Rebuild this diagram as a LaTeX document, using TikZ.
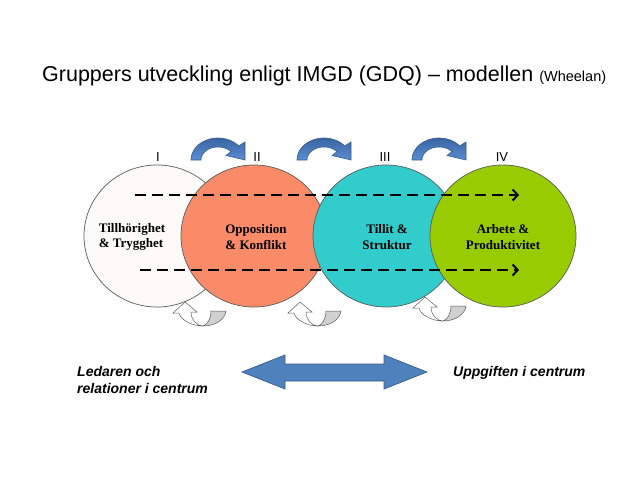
\documentclass[tikz,border=0pt]{standalone}
\usepackage{fontspec}
\setmainfont{Liberation Sans}
\newfontfamily\serifb{Liberation Serif}
\usetikzlibrary{arrows.meta,shapes.geometric}
\definecolor{c1}{HTML}{FBFAF8}
\definecolor{c2}{HTML}{F98B68}
\definecolor{c3}{HTML}{33CCCC}
\definecolor{c4}{HTML}{99CC00}
\definecolor{bl}{HTML}{4F81BD}
\definecolor{bld}{HTML}{385D8A}
\definecolor{blt}{HTML}{3A64A2}
\definecolor{blb}{HTML}{5A8ED2}
\definecolor{gr}{HTML}{D0D0D0}
\definecolor{edge}{HTML}{5A5A5A}
\tikzset{
  phase/.style={ellipse, draw=edge, line width=0.7pt, minimum width=146pt, minimum height=142pt, inner sep=0pt},
  phaselbl/.style={font=\serifb\bfseries\fontsize{13}{15.5}\selectfont, align=center},
  roman/.style={font=\fontsize{13}{15}\selectfont},
  flow/.style={line width=2.4pt, dash pattern=on 11pt off 6pt, -{Straight Barb[length=5pt,width=11pt,line width=2pt]}},
  sidetxt/.style={font=\bfseries\itshape\fontsize{14}{17}\selectfont, align=left},
  topbend/.pic={
    \path[top color=blt, bottom color=blb, draw=bld, line width=0.6pt]
      plot[domain=180:40,samples=30] ({27*cos(\x)},{-22*sin(\x)})
      -- (27,-18) -- (27,0) -- (8,-4.5)
      -- plot[domain=40:180,samples=30] ({17*cos(\x)},{-13*sin(\x)}) -- cycle;
  },
  lowbend/.pic={
    \path[draw=edge, fill=white, line width=0.5pt]
      (0,0) .. controls (-12,0) and (-23,-7) .. (-24,-13) -- (-30,-13) -- (-18,-24)
      -- (-6,-14) -- (-12,-14) .. controls (-12,-6) and (-6,0) .. (0,0) -- cycle;
    \path[draw=edge, fill=gr, line width=0.5pt]
      (0,0) .. controls (13,0) and (22,-7) .. (23,-15) -- (8,-15)
      .. controls (8,-7) and (4,-1) .. (0,0) -- cycle;
  }
}
\begin{document}
\begin{tikzpicture}[x=1pt,y=-1pt]
\useasboundingbox[fill=white] (0,0) rectangle (640,480);
% title
\node[anchor=base west, inner sep=0pt] (title) at (42,81)
  {\fontsize{21.5}{24}\selectfont Gruppers utveckling enligt IMGD (GDQ) -- modellen \fontsize{14.5}{16}\selectfont(Wheelan)};
% circles
\node[phase, fill=c1] (p1) at (157,236) {};
\node[phase, fill=c2] (p2) at (254,236) {};
\node[phase, fill=c3] (p3) at (386,236) {};
\node[phase, fill=c4] (p4) at (503,236) {};
% roman numerals
\node[roman] (r1) at (158,157) {I};
\node[roman] (r2) at (257,157) {II};
\node[roman] (r3) at (385,157) {III};
\node[roman] (r4) at (502,157) {IV};
% curved arrows top
\pic at (218,160) {topbend};
\pic at (324,160) {topbend};
\pic at (439,160) {topbend};
% curved arrows bottom
\pic at (203,326) {lowbend};
\pic at (318,326) {lowbend};
\pic at (443,321) {lowbend};
% dashed flows
\coordinate (f1s) at (135,195);
\coordinate (f1e) at (519,195);
\coordinate (f2s) at (140,270);
\coordinate (f2e) at (519,270);
\draw[flow] (f1s) -- (f1e);
\draw[flow] (f2s) -- (f2e);
% labels
\node[phaselbl, align=left] (l1) at (132,237) {Tillhörighet\\\& Trygghet};
\node[phaselbl] (l2) at (256,237) {Opposition\\\& Konflikt};
\node[phaselbl] (l3) at (387,237) {Tillit \&\\Struktur};
\node[phaselbl] (l4) at (503,237) {Arbete \&\\Produktivitet};
% double arrow
\path[fill=bl, draw=bld, line width=0.7pt]
  (242,372) -- (285,355) -- (285,364) -- (384,364) -- (384,355) -- (427,372)
  -- (384,389) -- (384,381) -- (285,381) -- (285,389) -- cycle;
\node[sidetxt, anchor=north west, inner sep=0pt] (lead) at (77,366) {Ledaren och\\relationer i centrum};
\node[sidetxt, anchor=north west, inner sep=0pt] (task) at (453,366) {Uppgiften i centrum};
\end{tikzpicture}
\end{document}
